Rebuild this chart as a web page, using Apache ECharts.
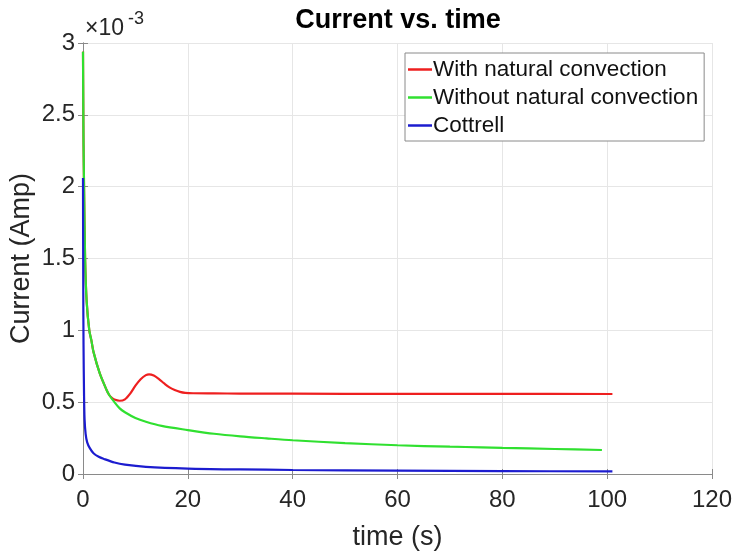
<!DOCTYPE html>
<html>
<head>
<meta charset="utf-8">
<script src="https://cdn.jsdelivr.net/npm/echarts@6/dist/echarts.min.js"></script>
<style>
    html, body { margin: 0; padding: 0; background: #fff; }
    #display-chart { width: 740px; height: 556px; }
</style>
</head>
<body>
<div id="display-chart"></div>
<script>
// 数据 (电流单位 ×10^-3 A)
var seriesNames = ['With natural convection', 'Without natural convection', 'Cottrell'];

var redTime = [0, 0.05, 0.1, 0.2, 0.4, 0.7, 1.2, 1.6, 2, 3.2, 4.5, 5, 5.5, 6, 7, 8, 9, 10, 11, 12, 12.6, 13.5, 14.5, 15.5, 16.5, 17.5, 18.5, 19.5, 21, 25, 30, 40, 60, 80, 101];
var redCurrent = [2.94, 2.6, 2.3, 2.0, 1.5, 1.2, 1.0, 0.93, 0.85, 0.70, 0.585, 0.55, 0.53, 0.518, 0.51, 0.52, 0.56, 0.615, 0.66, 0.688, 0.694, 0.685, 0.66, 0.63, 0.603, 0.585, 0.572, 0.565, 0.562, 0.561, 0.56, 0.559, 0.558, 0.558, 0.557];

var greenTime = [0, 0.05, 0.1, 0.2, 0.4, 0.7, 1.2, 1.6, 2, 3.2, 4.5, 5, 6, 7, 8, 10, 12, 15, 20, 25, 30, 35, 40, 50, 60, 70, 76, 80, 90, 99];
var greenCurrent = [2.94, 2.6, 2.3, 2.0, 1.5, 1.2, 1.0, 0.93, 0.85, 0.70, 0.585, 0.55, 0.50, 0.457, 0.43, 0.39, 0.364, 0.335, 0.306, 0.28, 0.262, 0.248, 0.235, 0.215, 0.2, 0.19, 0.186, 0.182, 0.174, 0.167];

var blueTime = [0, 0.05, 0.1, 0.2, 0.3, 0.5, 0.8, 1.3, 2, 3, 4, 6, 8, 12, 20, 30, 40, 60, 80, 101];
var blueCurrent = [2.06, 1.3, 0.9, 0.55, 0.38, 0.28, 0.22, 0.18, 0.145, 0.12, 0.105, 0.08, 0.065, 0.05, 0.038, 0.032, 0.028, 0.023, 0.02, 0.018];

var lineColors = ['#ee1f1f', '#30e030', '#1c1ccf'];

//时间-数值配对
function pairs(t, v) {
    var out = [];
    for (var i = 0; i < t.length; i++) {
        out.push([t[i], v[i]]);
    }
    return out;
}

var myChart = echarts.init(document.getElementById('display-chart'));
var axisGray = '#8a8a8a';
var fontName = 'Liberation Sans';

myChart.setOption({
    animation: false,
    textStyle: { fontFamily: fontName },
    title: {
        text: 'Current vs. time',
        left: 398,
        top: 7,
        padding: 0,
        textAlign: 'center',
        textStyle: { fontSize: 27, fontWeight: 'bold', color: '#000', fontFamily: fontName }
    },
    grid: {
        left: 83,
        right: 28,
        top: 43,
        bottom: 82,
        outerBoundsMode: 'none' //不自动收缩绘图区
    },
    legend: { //图例
        orient: 'vertical',
        left: 405,
        top: 53,
        padding: [5, 6, 4, 3],
        icon: 'rect',
        itemWidth: 24,
        itemHeight: 2.5,
        itemGap: 5,
        backgroundColor: '#fff',
        borderColor: '#8a8a8a',
        borderWidth: 1,
        borderRadius: 0,
        data: seriesNames,
        textStyle: { fontSize: 22.5, color: '#111', fontFamily: fontName, lineHeight: 22, padding: [0, 0, 0, -4] }
    },
    graphic: [
        {
            type: 'text',
            left: 85,
            top: 17,
            style: { text: '\u00d710', fontSize: 23, fill: '#262626', fontFamily: fontName }
        },
        {
            type: 'text',
            left: 128,
            top: 10,
            style: { text: '-3', fontSize: 18, fill: '#262626', fontFamily: fontName }
        }
    ],
    xAxis: [{
        type: 'value',
        min: 0,
        max: 120,
        interval: 20,
        name: 'time (s)',
        nameLocation: 'middle',
        nameGap: 50,
        nameMoveOverlap: false,
        nameTextStyle: { fontSize: 27, color: '#262626' },
        axisLine: { lineStyle: { color: axisGray } },
        axisTick: { inside: true, length: 5, lineStyle: { color: axisGray } },
        axisLabel: { fontSize: 24, color: '#262626', margin: 14 },
        splitLine: { lineStyle: { color: '#e6e6e6' } }
    }, {
        type: 'value',
        position: 'top',
        min: 0,
        max: 120,
        interval: 20,
        axisLine: { lineStyle: { color: axisGray } },
        axisTick: { inside: true, length: 5, lineStyle: { color: axisGray } },
        axisLabel: { show: false },
        splitLine: { show: false }
    }],
    yAxis: [{
        type: 'value',
        min: 0,
        max: 3,
        interval: 0.5,
        name: 'Current (Amp)',
        nameLocation: 'middle',
        nameGap: 48,
        nameMoveOverlap: false,
        nameTextStyle: { fontSize: 27, color: '#262626' },
        axisLine: { show: true, lineStyle: { color: axisGray } },
        axisTick: { show: true, inside: true, length: 5, lineStyle: { color: axisGray } },
        axisLabel: { fontSize: 24, color: '#262626', margin: 8 },
        splitLine: { lineStyle: { color: '#e6e6e6' } }
    }, {
        type: 'value',
        position: 'right',
        min: 0,
        max: 3,
        interval: 0.5,
        axisLine: { show: true, lineStyle: { color: axisGray } },
        axisTick: { show: true, inside: true, length: 5, lineStyle: { color: axisGray } },
        axisLabel: { show: false },
        splitLine: { show: false }
    }],
    series: [{
        name: seriesNames[0],
        type: 'line',
        data: pairs(redTime, redCurrent),
        smooth: 0.3,
        symbol: 'none',
        lineStyle: { color: lineColors[0], width: 2.2 },
        itemStyle: { color: lineColors[0] }
    }, {
        name: seriesNames[1],
        type: 'line',
        data: pairs(greenTime, greenCurrent),
        smooth: 0.3,
        symbol: 'none',
        lineStyle: { color: lineColors[1], width: 2.2 },
        itemStyle: { color: lineColors[1] }
    }, {
        name: seriesNames[2],
        type: 'line',
        data: pairs(blueTime, blueCurrent),
        smooth: 0.3,
        symbol: 'none',
        lineStyle: { color: lineColors[2], width: 2.2 },
        itemStyle: { color: lineColors[2] }
    }]
});
</script>
</body>
</html>
